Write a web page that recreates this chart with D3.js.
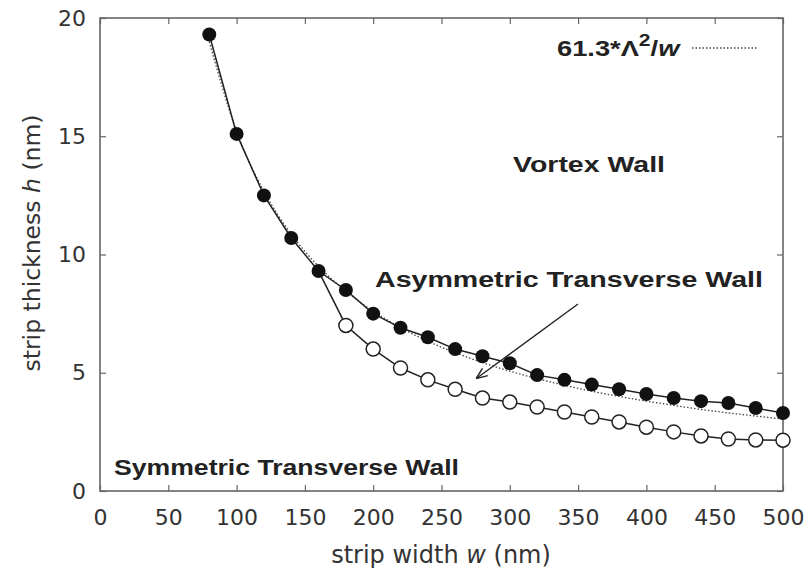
<!DOCTYPE html>
<html><head><meta charset="utf-8">
<script src="https://cdn.jsdelivr.net/npm/d3@7"></script>
<style>body{margin:0;background:#fff}svg{display:block}text{font-family:"DejaVu Sans",Arial,sans-serif}</style>
</head><body><svg id="c" width="811" height="574"></svg>
<script>
// Vortex / asymmetric transverse wall boundary (filled circles)
const vortexW = [80,100,120,140,160,180,200,220,240,260,280,300,320,340,360,380,400,420,440,460,480,500];
const vortexH = [19.3,15.1,12.5,10.7,9.3,8.5,7.5,6.9,6.5,6.0,5.7,5.4,4.9,4.7,4.5,4.3,4.1,3.93,3.8,3.72,3.51,3.3];
// Symmetric / asymmetric transverse wall boundary (open circles)
const transW = [160,180,200,220,240,260,280,300,320,340,360,380,400,420,440,460,480,500];
const transH = [9.3,7.0,6.0,5.2,4.7,4.3,3.93,3.76,3.55,3.34,3.13,2.92,2.7,2.5,2.33,2.2,2.16,2.15];
// 61.3*Λ²/w dotted curve
const fitW = [80,100,120,140,160,180,200,220,240,260,280,300,320,340,360,380,400,420,440,460,480,500];
const fitH = [19.0,15.2,12.67,10.86,9.5,8.44,7.6,6.91,6.33,5.85,5.43,5.07,4.75,4.47,4.22,4.0,3.8,3.62,3.45,3.3,3.17,3.04];
const xTicks = [0,50,100,150,200,250,300,350,400,450,500];
const yTicks = [0,5,10,15,20];

const svg = d3.select("#c");
const L=100,R=783,T=18,B=491;
const x = d3.scaleLinear().domain([0,500]).range([L,R]);
const y = d3.scaleLinear().domain([0,20]).range([B,T]);
const ink="#222", axisC="#666";
const FF="DejaVu Sans, Liberation Sans, sans-serif";

// frame
svg.append("rect").attr("x",L).attr("y",T).attr("width",R-L).attr("height",B-T)
  .attr("fill","none").attr("stroke",axisC).attr("stroke-width",1.6);

// axes with inward ticks
const fs="22px";
const gx=svg.append("g").attr("transform",`translate(0,${B})`)
  .call(d3.axisBottom(x).tickValues(xTicks).tickSize(-6).tickPadding(18));
const gxt=svg.append("g").attr("transform",`translate(0,${T})`)
  .call(d3.axisTop(x).tickValues(xTicks).tickSize(-6).tickFormat(""));
const gy=svg.append("g").attr("transform",`translate(${L},0)`)
  .call(d3.axisLeft(y).tickValues(yTicks).tickSize(-6).tickPadding(14));
const gyr=svg.append("g").attr("transform",`translate(${R},0)`)
  .call(d3.axisRight(y).tickValues(yTicks).tickSize(-6).tickFormat(""));
[gx,gxt,gy,gyr].forEach(g=>{
  g.select(".domain").remove();
  g.selectAll("line").attr("stroke",axisC).attr("stroke-width",1.2);
  g.selectAll("text").attr("fill","#333").style("font-size",fs).style("font-family",FF);
});

// axis titles
const xt=svg.append("text").attr("x",441).attr("y",563).attr("text-anchor","middle")
  .attr("fill","#333").style("font-size","24px");
xt.append("tspan").text("strip width ");
xt.append("tspan").attr("font-style","italic").text("w");
xt.append("tspan").text(" (nm)");
const yt=svg.append("text").attr("transform","translate(40,243) rotate(-90)").attr("text-anchor","middle")
  .attr("fill","#333").style("font-size","23.5px");
yt.append("tspan").text("strip thickness ");
yt.append("tspan").attr("font-style","italic").text("h");
yt.append("tspan").text(" (nm)");

// dotted fit curve
const fitData = fitW.map((w,i)=>[w,fitH[i]]);
const line = d3.line().x(d=>x(d[0])).y(d=>y(d[1])).curve(d3.curveMonotoneX);
svg.append("path").datum(fitData).attr("d",line).attr("fill","none")
  .attr("stroke","#444").attr("stroke-width",1.3).attr("stroke-dasharray","1.5,2");

// solid lines
const vData = vortexW.map((w,i)=>[w,vortexH[i]]);
const tData = transW.map((w,i)=>[w,transH[i]]);
const lineS = d3.line().x(d=>x(d[0])).y(d=>y(d[1]));
svg.append("path").datum(tData).attr("d",lineS).attr("fill","none").attr("stroke",ink).attr("stroke-width",1.5);
svg.append("path").datum(vData).attr("d",lineS).attr("fill","none").attr("stroke",ink).attr("stroke-width",1.5);

// markers
svg.append("g").selectAll("circle").data(tData.slice(1)).join("circle")
  .attr("cx",d=>x(d[0])).attr("cy",d=>y(d[1])).attr("r",7)
  .attr("fill","#fff").attr("stroke",ink).attr("stroke-width",1.5);
svg.append("g").selectAll("circle").data(vData).join("circle")
  .attr("cx",d=>x(d[0])).attr("cy",d=>y(d[1])).attr("r",7).attr("fill","#111");

// legend
const lg=svg.append("text").attr("transform","translate(557,56) scale(1.24,1)").attr("fill","#222")
  .style("font-size","22px").style("font-weight","bold").style("font-family","Liberation Sans, Arial, sans-serif");
lg.append("tspan").text("61.3*Λ");
lg.append("tspan").attr("dy",-10).style("font-size","17px").text("2");
lg.append("tspan").attr("dy",10).text("/");
lg.append("tspan").attr("font-style","italic").text("w");
svg.append("line").attr("x1",692).attr("x2",758).attr("y1",48).attr("y2",48)
  .attr("stroke","#444").attr("stroke-width",1.3).attr("stroke-dasharray","1.5,2");

// annotations
function lab(t,xx,yy,len){
  svg.append("text").attr("x",xx).attr("y",yy).attr("fill","#222")
    .style("font-size","22px").style("font-weight","bold").style("font-family","Liberation Sans, Arial, sans-serif")
    .attr("textLength",len).attr("lengthAdjust","spacingAndGlyphs").text(t);
}
lab("Vortex Wall",513,172,152);
lab("Asymmetric Transverse Wall",375,287,388);
lab("Symmetric Transverse Wall",114,475,345);

// arrow
svg.append("defs").append("marker").attr("id","ah").attr("viewBox","0 0 10 10")
  .attr("refX",9).attr("refY",5).attr("markerWidth",8).attr("markerHeight",8).attr("orient","auto")
  .append("path").attr("d","M0,1 L10,5 L0,9").attr("fill","none").attr("stroke",ink).attr("stroke-width",1.3);
svg.append("line").attr("x1",578).attr("y1",304).attr("x2",477).attr("y2",378)
  .attr("stroke",ink).attr("stroke-width",1.4).attr("marker-end","url(#ah)");
</script></body></html>
